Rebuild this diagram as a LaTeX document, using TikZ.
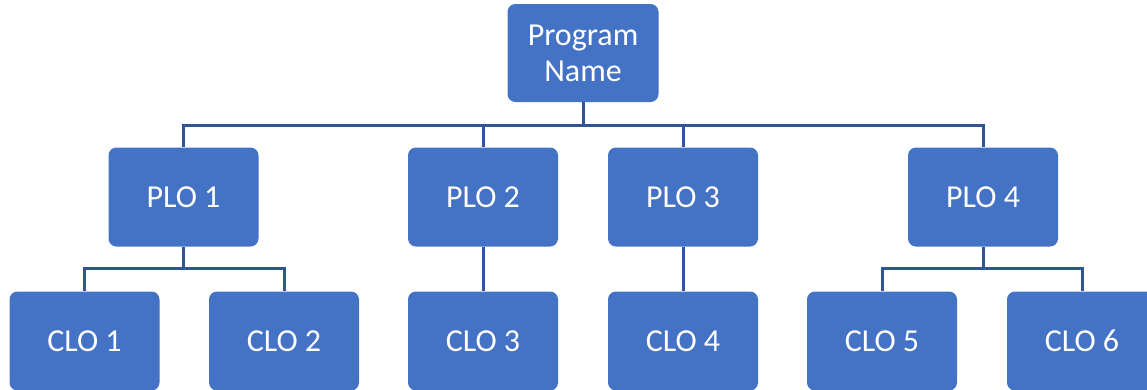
\documentclass[tikz,border=0pt]{standalone}
\usepackage{fontspec}
\setmainfont{Carlito}
\definecolor{boxfill}{HTML}{4472C4}
\definecolor{linecol}{HTML}{2F5597}
\begin{document}
\begin{tikzpicture}[x=1pt,y=-1pt,
  box/.style={draw=none,fill=boxfill,rounded corners=8pt,minimum width=150pt,minimum height=99pt,
    text=white,font=\fontsize{32pt}{36pt}\selectfont,align=center,inner sep=0pt},
  conn/.style={draw=linecol,line width=3pt}]
\useasboundingbox (0,0) rectangle (1147,389);
\clip (0,0) rectangle (1147,389);
\node[box,minimum width=151pt,minimum height=98pt] (top) at (583,53) {Program\\Name};
\node[box] (p1) at (183.5,197) {PLO 1};
\node[box] (p2) at (483,197) {PLO 2};
\node[box] (p3) at (683,197) {PLO 3};
\node[box] (p4) at (983,197) {PLO 4};
\node[box] (c1) at (84.5,341) {CLO 1};
\node[box] (c2) at (284,341) {CLO 2};
\node[box] (c3) at (483,341) {CLO 3};
\node[box] (c4) at (683,341) {CLO 4};
\node[box] (c5) at (882,341) {CLO 5};
\node[box] (c6) at (1082,341) {CLO 6};
\coordinate (bus1) at (583,125);
\coordinate (bus2) at (0,268);
\draw[conn] (top.south) -- (bus1);
\draw[conn] (bus1) -| (p1.north);
\draw[conn] (bus1) -| (p2.north);
\draw[conn] (bus1) -| (p3.north);
\draw[conn] (bus1) -| (p4.north);
\draw[conn] (p1.south) -- (p1.south |- bus2) -| (c1.north);
\draw[conn] (p1.south |- bus2) -| (c2.north);
\draw[conn] (p2.south) -- (c3.north);
\draw[conn] (p3.south) -- (c4.north);
\draw[conn] (p4.south) -- (p4.south |- bus2) -| (c5.north);
\draw[conn] (p4.south |- bus2) -| (c6.north);
\end{tikzpicture}
\end{document}
